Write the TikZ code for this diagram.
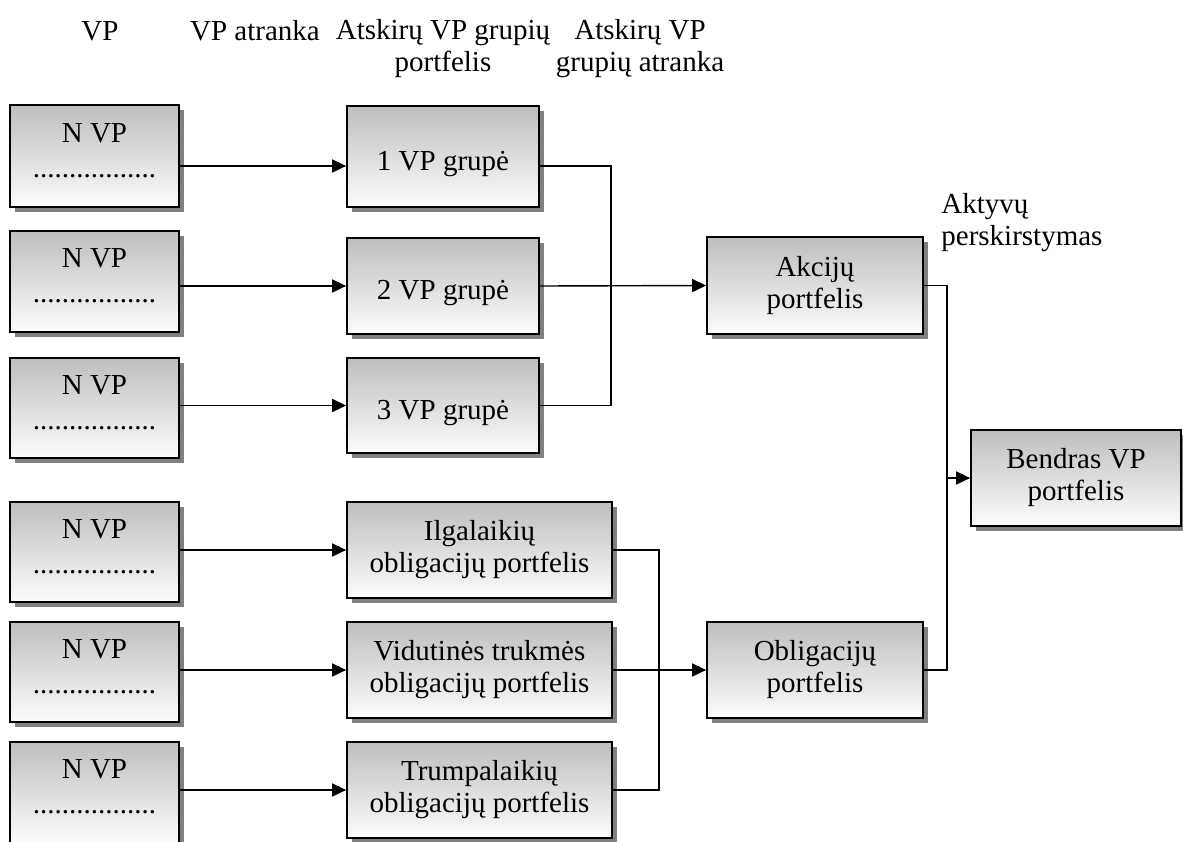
\documentclass[tikz,border=0pt]{standalone}
\usepackage{fontspec}
\setmainfont{Liberation Serif}
\usetikzlibrary{arrows.meta,shadows,calc}
\definecolor{shadowgray}{RGB}{128,128,128}
\definecolor{boxtop}{RGB}{190,190,190}
\definecolor{boxbot}{RGB}{252,252,252}
\tikzset{
  box/.style={draw=black, line width=0.85pt, rectangle, inner sep=0pt,
    top color=boxtop, bottom color=boxbot,
    drop shadow={shadow xshift=2.6pt, shadow yshift=-2.6pt, fill=shadowgray, opacity=1},
    font=\fontsize{14.5pt}{16pt}\selectfont, align=center},
  txt/.style={inner sep=0pt, font=\fontsize{14.5pt}{16pt}\selectfont},
  conn/.style={line width=0.7pt},
  arr/.style={conn, -{Triangle[length=7pt,width=6.5pt]}},
  oneline/.style={text height=14pt, text depth=0.5pt},
}
\begin{document}
\begin{tikzpicture}[x=0.5pt,y=-0.5pt]
\useasboundingbox (0,0) rectangle (1183,841);
\clip (0,0) rectangle (1183,841);
\fill[white] (0,0) rectangle (1183,841);

% headers
\node[txt, anchor=base] (h1) at (100,40) {VP};
\node[txt, anchor=base] (h2) at (255,40) {VP atranka};
\node[txt, align=center] (h3) at (443,49) {Atskirų VP grupių\\portfelis};
\node[txt, align=center] (h4) at (640,49) {Atskirų VP\\grupių atranka};
\node[txt, align=left, anchor=west] (h5) at (941,223) {Aktyvų\\perskirstymas};

% left column
\foreach \i/\t/\b in {1/105/207,2/231/332,3/358/458,4/502/602,5/622/722,6/742/843}{
  \node[box, minimum width=84.5pt, minimum height={(\b-\t)*0.5pt}] (n\i) at (94.5,{(\t+\b)/2}) {};
  \node[txt, align=center, font=\fontsize{14.5pt}{17.5pt}\selectfont] (nt\i) at ([yshift=2.75pt]n\i.center) {N VP\\.................};
}

% group boxes
\node[box, oneline, minimum width=96pt, minimum height=50.5pt] (g1) at (443,156.5) {1 VP grupė};
\node[box, oneline, minimum width=96pt, minimum height=48pt] (g2) at (443,286) {2 VP grupė};
\node[box, oneline, minimum width=96pt, minimum height=47.5pt] (g3) at (443,405.5) {3 VP grupė};

\node[box, minimum width=132.5pt, minimum height=48pt] (b1) at (479.5,550) {Ilgalaikių\\obligacijų portfelis};
\node[box, minimum width=132.5pt, minimum height=48pt] (b2) at (479.5,670) {Vidutinės trukmės\\obligacijų portfelis};
\node[box, minimum width=132.5pt, minimum height=48pt] (b3) at (479.5,790) {Trumpalaikių\\obligacijų portfelis};

\node[box, minimum width=108pt, minimum height=48.5pt] (a) at (815,285.5) {Akcijų\\portfelis};
\node[box, minimum width=108pt, minimum height=48pt] (o) at (815,670) {Obligacijų\\portfelis};
\node[box, minimum width=105pt, minimum height=48pt] (t) at (1076,478) {Bendras VP\\portfelis};

% connectors
\coordinate (r1) at (0,166);
\draw[arr] (n1.east |- r1) -- (g1.west |- r1);
\draw[arr] (n2.east |- g2.west) -- (g2.west);
\draw[arr] (n3.east |- g3.west) -- (g3.west);
\draw[arr] (n4.east |- b1.west) -- (b1.west);
\draw[arr] (n5.east |- b2.west) -- (b2.west);
\draw[arr] (n6.east |- b3.west) -- (b3.west);

\coordinate (ja) at (611,0);
\draw[conn] (g1.east |- r1) -| (ja |- g3.east) -- (g3.east);
\draw[arr] (g2.east) -- (a.west);

\coordinate (jb) at (659,0);
\draw[conn] (b1.east) -| (jb |- b3.east) -- (b3.east);
\draw[arr] (b2.east) -- (o.west);

\coordinate (jc) at (947,0);
\draw[conn] (a.east) -| (jc |- o.east) -- (o.east);
\draw[arr] (jc |- t.west) -- (t.west);
\end{tikzpicture}
\end{document}
